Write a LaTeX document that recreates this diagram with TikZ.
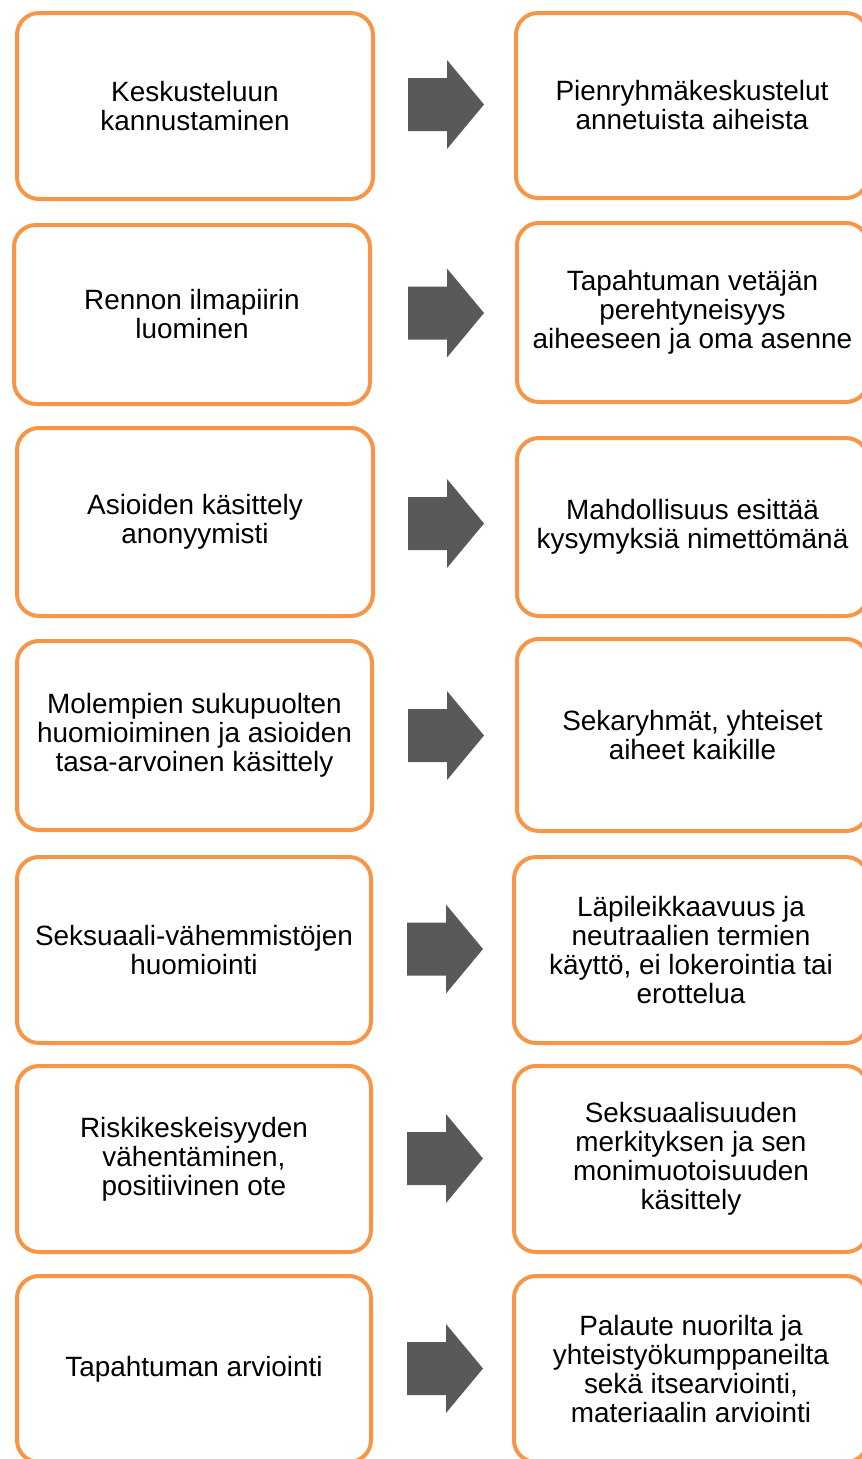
\documentclass[tikz,border=0pt]{standalone}
\usepackage{fontspec}
\setmainfont{Liberation Sans}
\definecolor{cardorange}{HTML}{F79646}
\definecolor{arrowgray}{HTML}{595959}
\tikzset{
  card/.style={draw=cardorange, line width=4pt, rounded corners=22pt, fill=white,
    align=center, inner sep=0pt, text=black, font=\fontsize{27.9}{29}\selectfont},
  blockarrow/.pic={\fill[arrowgray] (-38,-26.5) -- (1,-26.5) -- (1,-44.5) -- (38,0)
    -- (1,44.5) -- (1,26.5) -- (-38,26.5) -- cycle;}
}
\newcommand\cardnode[6]{\node[card, minimum width={#4-#2-4}, minimum height={#5-#3-4}]
  (#1) at ({(#2+#4)/2},{(#3+#5)/2}) {#6};}
\begin{document}
\begin{tikzpicture}[x=1pt, y=-1pt]
\useasboundingbox (0,0) rectangle (862,1459);
\clip (0,0) rectangle (862,1459);
\cardnode{L1}{15}{11}{375}{201}{Keskusteluun\\kannustaminen}
\cardnode{R1}{514}{11}{870}{200}{Pienryhmäkeskustelut\\annetuista aiheista}
\cardnode{L2}{12}{223}{372}{406}{Rennon ilmapiirin\\luominen}
\cardnode{R2}{515}{221}{870}{404}{Tapahtuman vetäjän\\perehtyneisyys\\aiheeseen ja oma asenne}
\cardnode{L3}{15}{426}{375}{618}{Asioiden käsittely\\anonyymisti}
\cardnode{R3}{515}{436}{870}{618}{Mahdollisuus esittää\\kysymyksiä nimettömänä}
\cardnode{L4}{15}{639}{374}{832}{Molempien sukupuolten\\huomioiminen ja asioiden\\tasa-arvoinen käsittely}
\cardnode{R4}{515}{637}{870}{833}{Sekaryhmät, yhteiset\\aiheet kaikille}
\cardnode{L5}{15}{855}{373}{1045}{Seksuaali-vähemmistöjen\\huomiointi}
\cardnode{R5}{512}{855}{870}{1045}{Läpileikkaavuus ja\\neutraalien termien\\käyttö, ei lokerointia tai\\erottelua}
\cardnode{L6}{15}{1064}{373}{1254}{Riskikeskeisyyden\\vähentäminen,\\positiivinen ote}
\cardnode{R6}{512}{1064}{870}{1254}{Seksuaalisuuden\\merkityksen ja sen\\monimuotoisuuden\\käsittely}
\cardnode{L7}{15}{1274}{373}{1464}{Tapahtuman arviointi}
\cardnode{R7}{512}{1274}{870}{1464}{Palaute nuorilta ja\\yhteistyökumppaneilta\\sekä itsearviointi,\\materiaalin arviointi}
\pic (A1) at (446,104.5) {blockarrow};
\pic (A2) at (446,313) {blockarrow};
\pic (A3) at (446,523.5) {blockarrow};
\pic (A4) at (446,735.5) {blockarrow};
\pic (A5) at (445,949) {blockarrow};
\pic (A6) at (445,1158.5) {blockarrow};
\pic (A7) at (445,1368.5) {blockarrow};
\end{tikzpicture}
\end{document}
